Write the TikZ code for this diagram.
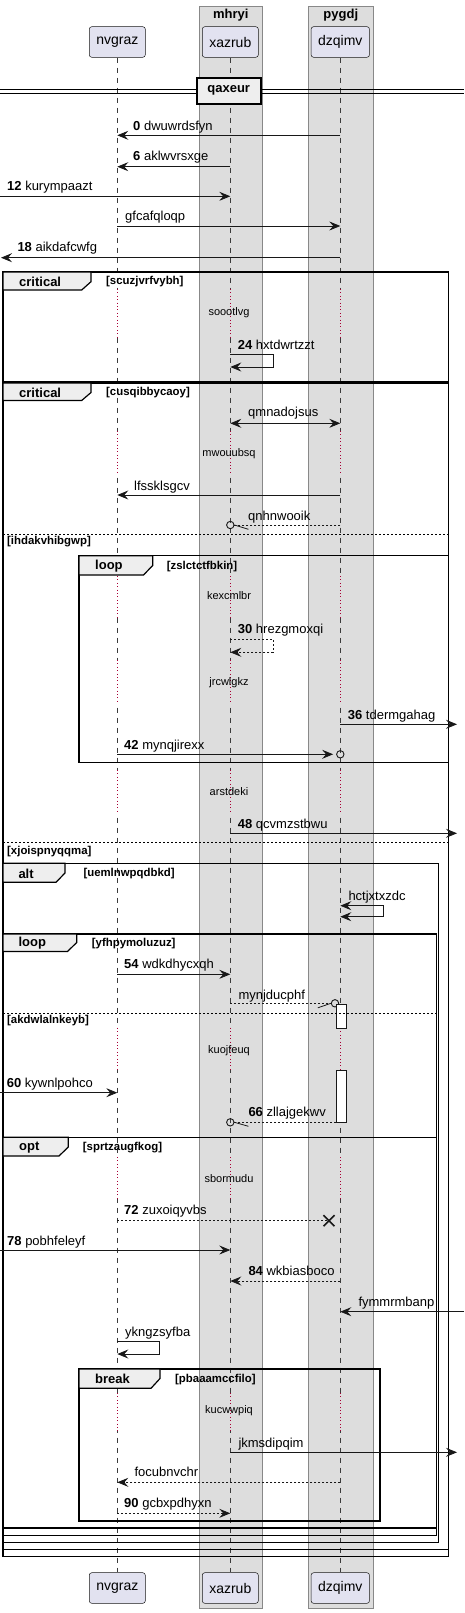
\documentclass[tikz,border=0pt]{standalone}
\usepackage{fontspec}
\setmainfont{Liberation Sans}
\usetikzlibrary{arrows.meta, positioning, calc}

\definecolor{partfill}{HTML}{E2E2F0}
\definecolor{boxgray}{HTML}{DDDDDD}
\definecolor{boxline}{HTML}{888888}
\definecolor{tabfill}{HTML}{EEEEEE}
\definecolor{dlyred}{HTML}{A80036}
\definecolor{lnclr}{HTML}{181818}

\tikzset{
  >={Stealth[length=11pt,width=9pt,inset=4pt]},
  part/.style={draw=lnclr, line width=0.5pt, fill=partfill, rounded corners=2.5pt,
    minimum height=30.6pt, inner xsep=7pt, font=\fontsize{14}{16}\selectfont},
  grpbox/.style={draw=boxline, line width=0.8pt, fill=boxgray},
  boxttl/.style={font=\fontsize{13}{15}\selectfont\bfseries, inner sep=0pt},
  lifeline/.style={draw=lnclr!85, line width=0.5pt, dash pattern=on 5pt off 5pt},
  dlyline/.style={draw=dlyred, line width=0.8pt, dash pattern=on 0.8pt off 2.6pt},
  dlytxt/.style={font=\fontsize{11}{13}\selectfont, inner sep=0pt},
  msg/.style={draw=lnclr, line width=0.8pt, ->},
  bimsg/.style={draw=lnclr, line width=0.8pt, <->},
  rmsg/.style={msg, dash pattern=on 2pt off 2pt},
  plainrmsg/.style={draw=lnclr, line width=0.8pt, dash pattern=on 2pt off 2pt},
  mlbl/.style={anchor=west, inner sep=0pt, text height=9.5pt, text depth=2.7pt,
    font=\fontsize{13}{15}\selectfont},
  frm/.style={draw=black, line width=1.5pt},
  tabbox/.style={draw=black, line width=1.2pt, fill=tabfill},
  frmlbl/.style={anchor=west, inner sep=0pt, font=\fontsize{13}{15}\selectfont\bfseries},
  grd/.style={anchor=west, inner sep=0pt, font=\fontsize{11.4}{13}\selectfont\bfseries},
  elseline/.style={draw=black, line width=0.8pt, dash pattern=on 2pt off 2pt},
  ohead/.style={circle, draw=lnclr, line width=0.9pt, minimum size=7.4pt, inner sep=0pt},
  act/.style={draw=lnclr, line width=0.8pt, fill=white},
}

\begin{document}
\begin{tikzpicture}[x=1pt, y=-1pt]
  \useasboundingbox (0,0) rectangle (464,1613);
  % boxes
  \draw[grpbox] (199.3,6) rectangle (262.3,1608);
  \draw[grpbox] (308.3,6) rectangle (373.3,1608);
  \node[boxttl] (bmhryi) at (230.8,15) {mhryi};
  \node[boxttl] (bpygdj) at (340.8,15) {pygdj};

  % participants
  \node[part] (nvT) at (117.3,42) {nvgraz};
  \node[part] (xaT) at (230.3,42) {xazrub};
  \node[part] (dzT) at (340.3,42) {dzqimv};
  \node[part] (nvB) at (117.3,1588) {nvgraz};
  \node[part] (xaB) at (230.3,1588) {xazrub};
  \node[part] (dzB) at (340.3,1588) {dzqimv};
  \coordinate (lft) at (1,0);
  \coordinate (lft0) at (0,0);
  \coordinate (rgt) at (457,0);
  \coordinate (rgt0) at (464,0);

  \foreach \p in {nv,xa,dz}
    \draw[lifeline] (\p T.south) -- (\p B.north);

  % delays
  \foreach \p/\bg in {nvT/white, xaT/boxgray, dzT/boxgray}{
    \foreach \ya/\yb in {289/337, 431/474, 576/617, 660/704, 770/813, 1028/1070, 1157/1199, 1393/1431}{
      \draw[draw=\bg, line width=2pt] (\p |- 0,\ya) -- (\p |- 0,\yb);
      \draw[dlyline] (\p |- 0,\ya) -- (\p |- 0,\yb);
    }
  }
  \node[dlytxt] (dly1) at (229,312.7) {soootlvg};
  \node[dlytxt] (dly2) at (229,453.3) {mwouubsq};
  \node[dlytxt] (dly3) at (229,596) {kexcmlbr};
  \node[dlytxt] (dly4) at (229,682.3) {jrcwlgkz};
  \node[dlytxt] (dly5) at (229,791.7) {arstdeki};
  \node[dlytxt] (dly6) at (229,1050.3) {kuojfeuq};
  \node[dlytxt] (dly7) at (229,1178.3) {sbormudu};
  \node[dlytxt] (dly8) at (229,1411) {kucwwpiq};

  % divider
  \draw[line width=0.9pt] (0,89) -- (464,89) (0,93) -- (464,93);
  \node[draw=black, line width=1.8pt, fill=tabfill, minimum width=64pt, minimum height=26.3pt,
    inner sep=0pt, font=\fontsize{13}{15}\selectfont\bfseries] (divq) at (228.7,90.8) {qaxeur};

  % messages before groups
  \draw[msg] (dzT |- 0,135.3) -- (nvT |- 0,135.3);
  \node[mlbl] (m0) at (133,126.7) {\textbf{0} dwuwrdsfyn};
  \draw[msg] (xaT |- 0,166.7) -- (nvT |- 0,166.7);
  \node[mlbl] (m6) at (133,156.7) {\textbf{6} aklwvrsxge};
  \draw[msg] (lft0 |- 0,196.3) -- (xaT |- 0,196.3);
  \node[mlbl] (m12) at (7,187.3) {\textbf{12} kurympaazt};
  \draw[msg] (nvT |- 0,226) -- (dzT |- 0,226);
  \node[mlbl] (mgf) at (125,216.7) {gfcafqloqp};
  \draw[msg] (dzT |- 0,257.7) -- (lft |- 0,257.7);
  \node[mlbl] (m18) at (17.3,247.7) {\textbf{18} aikdafcwfg};

  % critical [scuzjvrfvybh]
  \draw[frm] (3,272) rectangle (448.3,382);
  \draw[tabbox] (3,272) -- (91,272) -- (91,281.7) -- (81.7,290) -- (3,290) -- cycle;
  \node[frmlbl] (fcr1) at (19,281.5) {critical};
  \node[grd] (gcr1) at (106,281.7) {[scuzjvrfvybh]};
  \draw[msg] (xaT |- 0,354.3) -- (273.3,354.3) -- (273.3,367) -- (xaT |- 0,367);
  \node[mlbl] (m24) at (237.7,345.7) {\textbf{24} hxtdwrtzzt};

  % critical [cusqibbycaoy]
  \draw[frm] (3,383) rectangle (448.3,1556.5);
  \draw[frm] (3,1549.3) -- (448.3,1549.3);
  \draw[tabbox] (3,383) -- (91,383) -- (91,392.5) -- (81.7,400.5) -- (3,400.5) -- cycle;
  \node[frmlbl] (fcr2) at (19,392.5) {critical};
  \node[grd] (gcr2) at (106,392.3) {[cusqibbycaoy]};
  \draw[bimsg] (xaT |- 0,423.3) -- (dzT |- 0,423.3);
  \node[mlbl] (mqm) at (248,413.3) {qmnadojsus};
  \draw[msg] (dzT |- 0,495) -- (nvT |- 0,495);
  \node[mlbl] (mlf) at (134,486.7) {lfssklsgcv};
  \node[ohead] (oqn) at (xaT |- 0,525) {};
  \draw[plainrmsg] (dzT |- 0,525) -- (oqn.east);
  \draw[draw=lnclr, line width=0.8pt] (oqn.east) -- ++(14,4.3);
  \node[mlbl] (mqn) at (248,516.7) {qnhnwooik};

  \draw[elseline] (3,534) -- (448.3,534);
  \node[grd] (eih) at (7,541.8) {[ihdakvhibgwp]};

  % loop [zslctctfbkin]
  \draw[frm] (79,555.7) rectangle (448.3,762.3);
  \draw[tabbox] (79,555.7) -- (152.7,555.7) -- (152.7,565.5) -- (143.5,575) -- (79,575) -- cycle;
  \node[frmlbl] (flp1) at (95,566) {loop};
  \node[grd] (glp1) at (166.7,566.7) {[zslctctfbkin]};
  \draw[rmsg] (xaT |- 0,639.3) -- (273.3,639.3) -- (273.3,652.3) -- (xaT |- 0,652.3);
  \node[mlbl] (m30) at (237.7,630) {\textbf{30} hrezgmoxqi};
  \draw[msg] (dzT |- 0,724.3) -- (rgt |- 0,724.3);
  \node[mlbl] (m36) at (347.7,715.7) {\textbf{36} tdermgahag};
  \node[ohead] (omy) at (dzT |- 0,754.3) {};
  \draw[msg] (nvT |- 0,754.3) -- ([xshift=-3pt]omy.west);
  \node[mlbl] (m42) at (124,746) {\textbf{42} mynqjirexx};

  \draw[msg] (xaT |- 0,833.3) -- (rgt |- 0,833.3);
  \node[mlbl] (m48) at (237.7,825) {\textbf{48} qcvmzstbwu};

  \draw[elseline] (3,842.3) -- (448.3,842.3);
  \node[grd] (exj) at (7,851.7) {[xjoispnyqqma]};

  % alt [uemlnwpqdbkd]
  \draw[frm] (3,863.3) rectangle (438.7,1542.7);
  \draw[tabbox] (3,863.3) -- (65,863.3) -- (65,873) -- (56,882.3) -- (3,882.3) -- cycle;
  \node[frmlbl] (falt) at (18.3,873.5) {alt};
  \node[grd] (galt) at (83.3,874) {[uemlnwpqdbkd]};
  \draw[bimsg] (dzT |- 0,905.7) -- (383.3,905.7) -- (383.3,916.7) -- (dzT |- 0,916.7);
  \node[mlbl] (mhc) at (348.3,897.3) {hctjxtxzdc};

  % loop [yfhpymoluzuz]
  \draw[frm] (3,934) rectangle (436.7,1535.7);
  \draw[tabbox] (3,934) -- (76.7,934) -- (76.7,942.5) -- (67.5,951.5) -- (3,951.5) -- cycle;
  \node[frmlbl] (flp2) at (18.3,943.3) {loop};
  \node[grd] (glp2) at (91.7,943.3) {[yfhpymoluzuz]};
  \draw[msg] (nvT |- 0,974.3) -- (xaT |- 0,974.3);
  \node[mlbl] (m54) at (124,965) {\textbf{54} wdkdhycxqh};
  \node[ohead] (omj) at (335,1003.3) {};
  \draw[plainrmsg] (xaT |- 0,1003.3) -- (omj.west);
  \draw[draw=lnclr, line width=0.8pt] (omj.west) -- ++(-13,4.5);
  \node[mlbl] (mmj) at (238.3,996) {mynjducphf};
  \draw[act] (336,1004.3) rectangle (346.7,1028.3);

  \draw[elseline] (3,1013.3) -- (436.7,1013.3);
  \node[grd] (eak) at (7,1021) {[akdwlalnkeyb]};
  \draw[act] (336,1070) rectangle (346.7,1122.3);
  \draw[msg] (lft0 |- 0,1092.7) -- (nvT |- 0,1092.7);
  \node[mlbl] (m60) at (6.7,1084) {\textbf{60} kywnlpohco};
  \node[ohead] (ozl) at (xaT |- 0,1122.3) {};
  \draw[plainrmsg] (336,1122.3) -- (ozl.east);
  \draw[draw=lnclr, line width=0.8pt] (ozl.east) -- ++(14,4);
  \node[mlbl] (m66) at (248.3,1113.3) {\textbf{66} zllajgekwv};

  % opt [sprtzaugfkog]
  \draw[frm] (3,1137.3) rectangle (436.7,1528);
  \draw[tabbox] (3,1137.3) -- (68.3,1137.3) -- (68.3,1147) -- (59,1156) -- (3,1156) -- cycle;
  \node[frmlbl] (fopt) at (19,1147.3) {opt};
  \node[grd] (gopt) at (82.7,1147.7) {[sprtzaugfkog]};
  \coordinate (xzu) at (329,1220.7);
  \draw[plainrmsg] (nvT |- xzu) -- (xzu);
  \draw[draw=lnclr, line width=1.6pt] (xzu) +(-5.5,-5.5) -- +(5.5,5.5) (xzu) +(-5.5,5.5) -- +(5.5,-5.5);
  \node[mlbl] (m72) at (124,1211) {\textbf{72} zuxoiqyvbs};
  \draw[msg] (lft0 |- 0,1250) -- (xaT |- 0,1250);
  \node[mlbl] (m78) at (7,1241.7) {\textbf{78} pobhfeleyf};
  \draw[rmsg] (dzT |- 0,1281) -- (xaT |- 0,1281);
  \node[mlbl] (m84) at (248.3,1271.7) {\textbf{84} wkbiasboco};
  \draw[msg] (rgt0 |- 0,1311.7) -- (dzT |- 0,1311.7);
  \node[mlbl] (mfy) at (358.3,1302.7) {fymmrmbanp};
  \draw[msg] (nvT |- 0,1341.7) -- (159.3,1341.7) -- (159.3,1354) -- (nvT |- 0,1354);
  \node[mlbl] (myk) at (125,1333.3) {ykngzsyfba};

  % break [pbaaamccfilo]
  \draw[frm] (79,1369) rectangle (380,1521);
  \draw[tabbox] (79,1369) -- (160,1369) -- (160,1378.5) -- (151,1388.3) -- (79,1388.3) -- cycle;
  \node[frmlbl] (fbrk) at (95,1379) {break};
  \node[grd] (gbrk) at (175,1379.3) {[pbaaamccfilo]};
  \draw[msg] (xaT |- 0,1452.3) -- (rgt |- 0,1452.3);
  \node[mlbl] (mjk) at (238.3,1444) {jkmsdipqim};
  \draw[rmsg] (dzT |- 0,1482.3) -- (nvT |- 0,1482.3);
  \node[mlbl] (mfo) at (134.3,1473.3) {focubnvchr};
  \draw[rmsg] (nvT |- 0,1513.3) -- (xaT |- 0,1513.3);
  \node[mlbl] (m90) at (124,1504) {\textbf{90} gcbxpdhyxn};
\end{tikzpicture}
\end{document}
